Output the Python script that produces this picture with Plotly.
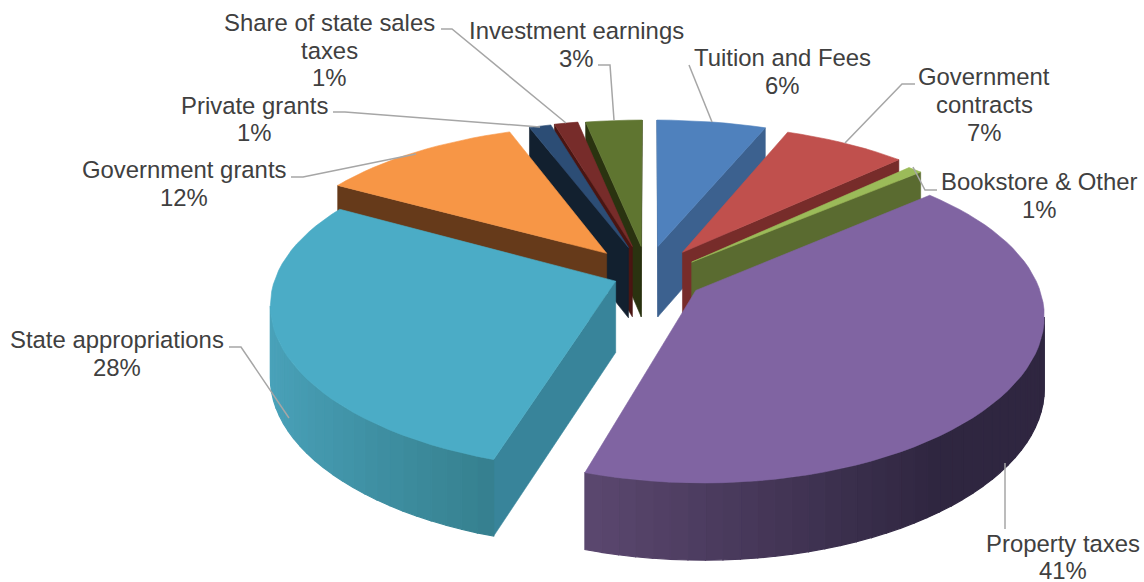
import math
import plotly.graph_objects as go

categories = ["Tuition and Fees", "Government contracts", "Bookstore & Other", "Property taxes",
              "State appropriations", "Government grants", "Private grants",
              "Share of state sales taxes", "Investment earnings"]
shares = [6.0, 6.8, 0.8, 41.2, 28.4, 11.2, 1.2, 1.3, 3.1]
top_colors = ["#4F81BD", "#C0504D", "#9BBB59", "#8064A2", "#4BACC6", "#F79646", "#2C4D75", "#772C2A", "#5F7530"]
side_colors = ["#3C618F", "#772C2A", "#5A6B30", "#4E3D63", "#38849A", "#663A1A", "#12202F", "#4A1512", "#2A3310"]
rim_left = ["#3C618F", "#772C2A", "#5A6B30", "#5C4870", "#4AA3BB", "#663A1A", "#12202F", "#4A1512", "#2A3310"]
rim_right = ["#3C618F", "#772C2A", "#5A6B30", "#2F2640", "#36808F", "#663A1A", "#12202F", "#4A1512", "#2A3310"]
rim_sin_lo = [-1, -1, -1, -0.31, -1, -1, -1, -1, -1]
rim_sin_hi = [1, 1, 1, 0.6, -0.31, 1, 1, 1, 1]
explode_x = [8, 33, 42, 45, -34, -44, -22, -18, -9]
explode_y = [24, 18, 8, -20, -11, 17, 23, 24, 24]
label_lines = [["Tuition and Fees", "6%"], ["Government", "contracts", "7%"], ["Bookstore & Other", "1%"],
               ["Property taxes", "41%"], ["State appropriations", "28%"], ["Government grants", "12%"],
               ["Private grants", "1%"], ["Share of state sales", "taxes", "1%"], ["Investment earnings", "3%"]]
label_x = [782, 984, 1039, 1063, 117, 184, 254, 329, 576]
label_y = [[57, 85], [76, 104, 132], [181, 209], [543, 570], [339, 367], [169, 197], [105, 132], [22, 50, 77], [30, 58]]
leaders = [[(689, 65), (712, 122)], [(915, 84), (902, 84), (845, 143)], [(937, 190), (925, 190), (913, 167)],
           [(1005, 463), (1005, 529)], [(229, 347), (241, 347), (289, 418)], [(291, 177), (303, 177), (416, 154)],
           [(333, 112), (345, 112), (540, 127)], [(441, 29), (452, 29), (566, 123)], [(598, 65), (610, 65), (614, 120)]]
draw_order = [0, 1, 2, 8, 7, 6, 5, 4, 3]

CX, CY, RAD, VRAD, DIST_X, DIST_Y, HEIGHT = 650, 270, 338, 154, 6.5, 5.5, 71
COS_T = 0.89


def project(x, y, z):
    sx = DIST_X / (DIST_X + y * COS_T)
    sy = DIST_Y / (DIST_Y + y * COS_T)
    return CX + RAD * sx * x, CY - VRAD * sy * y + HEIGHT * z * sx ** 0.5


def mix(a, b, t):
    ca = [int(a[i:i + 2], 16) for i in (1, 3, 5)]
    cb = [int(b[i:i + 2], 16) for i in (1, 3, 5)]
    return "#%02x%02x%02x" % tuple(round(p + (q - p) * t) for p, q in zip(ca, cb))


def area(poly):
    return sum(p[0] * q[1] - q[0] * p[1] for p, q in zip(poly, poly[1:] + poly[:1])) / 2


fig = go.Figure()


def face(poly, color, width=0.6):
    fig.add_trace(go.Scatter(x=[p[0] for p in poly] + [poly[0][0]], y=[p[1] for p in poly] + [poly[0][1]],
                             mode="lines", fill="toself", fillcolor=color, line=dict(color=color, width=width),
                             hoverinfo="skip", showlegend=False))


total = sum(shares)
starts = []
acc = 0
for v in shares:
    starts.append(acc / total * 2 * math.pi)
    acc += v

for i in draw_order:
    a0 = starts[i]
    a1 = a0 + shares[i] / total * 2 * math.pi
    ex, ey = explode_x[i] / RAD, explode_y[i] / VRAD
    n = max(2, int((a1 - a0) / math.radians(2.5)))
    angs = [a0 + (a1 - a0) * k / n for k in range(n + 1)]
    pts = [(ex + math.sin(a), ey + math.cos(a)) for a in angs]
    tip = (ex, ey)
    # radial side walls, only where they face the viewer
    for p, order in ((pts[0], 1), (pts[-1], -1)):
        quad = [project(*tip, 0), project(*p, 0), project(*p, 1), project(*tip, 1)]
        if area(quad) * order < 0:
            face(quad, side_colors[i])
    # outer rim, split into shaded strips
    lo, hi = rim_sin_lo[i], rim_sin_hi[i]
    for k in range(n):
        quad = [project(*pts[k], 0), project(*pts[k + 1], 0), project(*pts[k + 1], 1), project(*pts[k], 1)]
        if area(quad) < 0:
            t = (math.sin((angs[k] + angs[k + 1]) / 2) - lo) / (hi - lo)
            face(quad, mix(rim_left[i], rim_right[i], min(1, max(0, t))), width=1.2)
    face([project(*tip, 0)] + [project(*p, 0) for p in pts], top_colors[i])

for seg in leaders:
    fig.add_trace(go.Scatter(x=[p[0] for p in seg], y=[p[1] for p in seg], mode="lines",
                             line=dict(color="#A6A6A6", width=1.5), hoverinfo="skip", showlegend=False))

for lines, x, ys in zip(label_lines, label_x, label_y):
    for text, y in zip(lines, ys):
        fig.add_annotation(x=x, y=y, text=text, showarrow=False, xanchor="center", yanchor="middle",
                           font=dict(family="Liberation Sans", size=23.9, color="#404040"))

fig.update_layout(width=1144, height=582, margin=dict(l=0, r=0, t=0, b=0), paper_bgcolor="white",
                  plot_bgcolor="white",
                  xaxis=dict(range=[0, 1144], visible=False, fixedrange=True),
                  yaxis=dict(range=[582, 0], visible=False, fixedrange=True))
fig.write_html("out.html", config={"displayModeBar": False},
               post_script="document.body.style.margin='0';document.documentElement.style.overflow='hidden';")
